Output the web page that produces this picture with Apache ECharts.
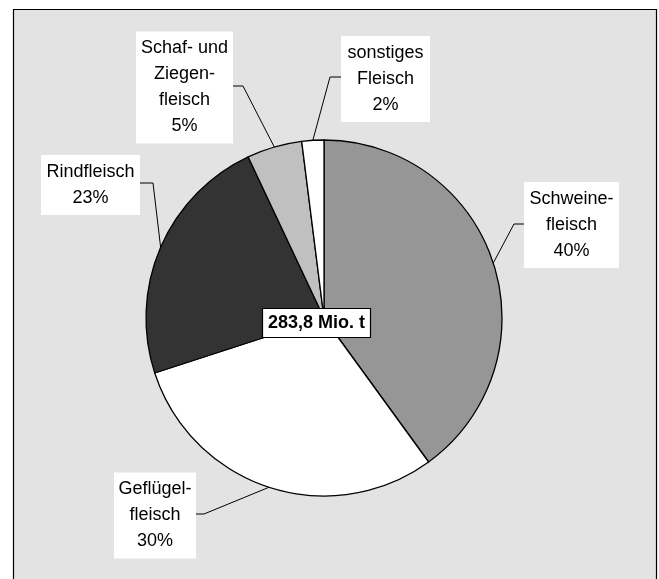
<!DOCTYPE html>
<html>
<head>
<meta charset="utf-8">
<script src="https://cdn.jsdelivr.net/npm/echarts@6/dist/echarts.min.js"></script>
<style>
  html, body { margin: 0; padding: 0; background: #fff; }
  #main { width: 659px; height: 579px; }
</style>
</head>
<body>
<div id="main"></div>
<script>
// Fleischerzeugung weltweit, Anteile in %
const categories = ['Schweine-\nfleisch', 'Geflügel-\nfleisch', 'Rindfleisch', 'Schaf- und\nZiegen-\nfleisch', 'sonstiges\nFleisch']
const shares = [40, 30, 23, 5, 2]
const sliceColors = ['#969696', '#ffffff', '#333333', '#c0c0c0', '#ffffff']
const totalLabel = '283,8 Mio. t'

// label box centres/widths, leader elbow and box edge (pixels)
const labelBoxes = [
  { x: 571.5, y: 225, w: 95, elbow: [514, 224], edge: [524, 224] },
  { x: 155, y: 515.5, w: 82, elbow: [204, 514], edge: [196, 514] },
  { x: 90.5, y: 185, w: 99, elbow: [153, 183], edge: [140, 183] },
  { x: 184.5, y: 87.5, w: 97, elbow: [243, 86], edge: [233, 86] },
  { x: 385.5, y: 79, w: 89, elbow: [330, 77], edge: [341, 77] }
]

const chart = echarts.init(document.getElementById('main'))

chart.setOption({
  animation: false,
  backgroundColor: '#ffffff',
  textStyle: { fontFamily: 'Liberation Sans, Arial, sans-serif' },
  graphic: [{
    type: 'rect',
    z: -10,
    shape: { x: 13.5, y: 9.5, width: 643, height: 600 },
    style: { fill: '#e3e3e3', stroke: '#000', lineWidth: 1.2 }
  }],
  title: {
    text: totalLabel,
    left: 262,
    top: 308,
    padding: [5, 6, 5, 6],
    backgroundColor: '#ffffff',
    borderColor: '#000',
    borderWidth: 1.2,
    z: 10,
    textStyle: {
      fontFamily: 'Liberation Sans, Arial, sans-serif',
      fontSize: 18,
      lineHeight: 20,
      fontWeight: 'bold',
      color: '#000'
    }
  },
  series: [{
    type: 'pie',
    center: [324, 318],
    radius: 178,
    startAngle: 90,
    clockwise: true,
    avoidLabelOverlap: false,
    silent: true,
    emphasis: { disabled: true },
    itemStyle: { borderColor: '#000', borderWidth: 1.3 },
    label: {
      show: true,
      position: 'outside',
      formatter: '{b}\n{c}%',
      fontFamily: 'Liberation Sans, Arial, sans-serif',
      fontSize: 18,
      lineHeight: 26,
      color: '#000',
      align: 'center',
      overflow: 'none',
      backgroundColor: '#ffffff',
      padding: [5, 2, 3, 2]
    },
    labelLine: {
      show: true,
      length: 15,
      length2: 10,
      smooth: false,
      lineStyle: { color: '#000', width: 1 }
    },
    labelLayout: function (params) {
      const b = labelBoxes[params.dataIndex]
      const pts = params.labelLinePoints
      return {
        x: b.x,
        y: b.y,
        align: 'center',
        verticalAlign: 'middle',
        labelLinePoints: [pts[0], b.elbow, b.edge]
      }
    },
    data: categories.map((name, i) => ({
      name: name,
      value: shares[i],
      itemStyle: { color: sliceColors[i] },
      label: { width: labelBoxes[i].w - 4 }
    }))
  }]
})
</script>
</body>
</html>
